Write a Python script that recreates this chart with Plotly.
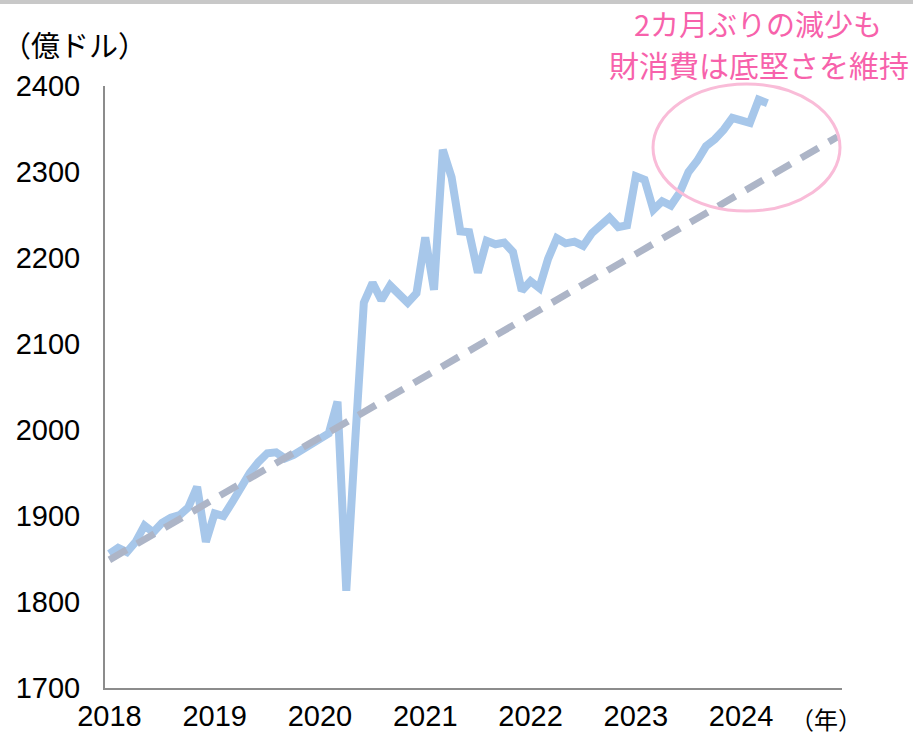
import plotly.graph_objects as go

# ---- data ----
years = ["2018", "2019", "2020", "2021", "2022", "2023", "2024"]
months = [f"{y}-{m:02d}" for y in years for m in range(1, 13)]  # category axis

goods_2018 = [1856, 1863, 1858, 1870, 1889, 1881, 1892, 1898, 1901, 1910, 1934, 1870]
goods_2019 = [1903, 1900, 1916, 1934, 1950, 1963, 1973, 1974, 1967, 1971, 1977, 1983]
goods_2020 = [1988, 1996, 2033, 1813, 1985, 2148, 2171, 2151, 2168, 2159, 2148, 2159]
goods_2021 = [2224, 2163, 2326, 2294, 2231, 2230, 2183, 2220, 2216, 2218, 2207, 2162]
goods_2022 = [2173, 2165, 2199, 2223, 2217, 2219, 2214, 2229, 2238, 2247, 2236, 2238]
goods_2023 = [2295, 2291, 2256, 2266, 2261, 2276, 2300, 2313, 2330, 2338, 2349, 2363]
goods_2024 = [2360, 2357, 2384, 2380]
goods = goods_2018 + goods_2019 + goods_2020 + goods_2021 + goods_2022 + goods_2023 + goods_2024

trend_x = ["2018-01", "2024-12"]
trend_y = [1849, 2341]

tick_vals = [f"{y}-01" for y in years]
tick_text = years
y_ticks = [1700, 1800, 1900, 2000, 2100, 2200, 2300, 2400]

NUM_FONT = "Liberation Sans, Arial, sans-serif"
JP_FONT = "Noto Sans CJK JP, sans-serif"

fig = go.Figure()
fig.add_trace(go.Scatter(
    x=months[:len(goods)], y=goods, mode="lines",
    line=dict(color="#a7c7ea", width=8),
    hoverinfo="skip", showlegend=False,
))
fig.add_trace(go.Scatter(
    x=trend_x, y=trend_y, mode="lines",
    line=dict(color="#adb5c7", width=7, dash="20px,12px"),
    hoverinfo="skip", showlegend=False,
))

# plot area: x 105..842 px, y 86..688 px
L, R, T, B = 105, 842, 86, 688
W, H = 913, 735

def px_x(p):
    return (p - L) / (R - L)

def px_y(p):
    return (B - p) / (B - T)

fig.update_layout(
    width=W, height=H,
    margin=dict(l=L, r=W - R, t=T, b=H - B, autoexpand=False),
    paper_bgcolor="white", plot_bgcolor="white",
    xaxis=dict(
        type="category", categoryorder="array", categoryarray=months,
        range=[-0.5, len(months) - 0.5], automargin=False,
        tickmode="array", tickvals=tick_vals, ticktext=tick_text,
        showgrid=False, zeroline=False, ticks="",
        showline=True, linecolor="#8c8c8c", linewidth=2,
        tickfont=dict(family=NUM_FONT, size=29, color="black"),
        ticklabelstandoff=1,
    ),
    yaxis=dict(
        range=[1700, 2400], tickmode="array", tickvals=y_ticks, automargin=False,
        showgrid=False, zeroline=False, ticks="",
        showline=True, linecolor="#8c8c8c", linewidth=2,
        tickfont=dict(family=NUM_FONT, size=29, color="black"),
        ticklabelstandoff=17,
    ),
    shapes=[
        dict(type="rect", xref="paper", yref="paper",
             x0=px_x(0), x1=px_x(W), y0=px_y(4), y1=px_y(0),
             fillcolor="#c8c8c8", line=dict(width=0), layer="above"),
        dict(type="circle", xref="paper", yref="paper",
             x0=px_x(653), x1=px_x(840), y0=px_y(211), y1=px_y(84),
             line=dict(color="#f9bcd8", width=3), layer="above"),
    ],
    annotations=[
        dict(text="（億ドル）", xref="paper", yref="paper",
             x=px_x(0), y=px_y(44), xanchor="left", yanchor="middle",
             showarrow=False, font=dict(family=JP_FONT, size=29, color="black")),
        dict(text="（年）", xref="paper", yref="paper",
             x=px_x(826), y=px_y(718), xanchor="center", yanchor="middle",
             showarrow=False, font=dict(family=JP_FONT, size=24, color="black")),
        dict(text="2カ月ぶりの減少も", xref="paper", yref="paper",
             x=px_x(758), y=px_y(23), xanchor="center", yanchor="middle",
             showarrow=False, font=dict(family=JP_FONT, size=29, color="#f762ab")),
        dict(text="財消費は底堅さを維持", xref="paper", yref="paper",
             x=px_x(759), y=px_y(64), xanchor="center", yanchor="middle",
             showarrow=False, font=dict(family=JP_FONT, size=30, color="#f762ab")),
    ],
)

fig.write_html("out.html", config={"displayModeBar": False},
               post_script="document.body.style.margin='0';")
